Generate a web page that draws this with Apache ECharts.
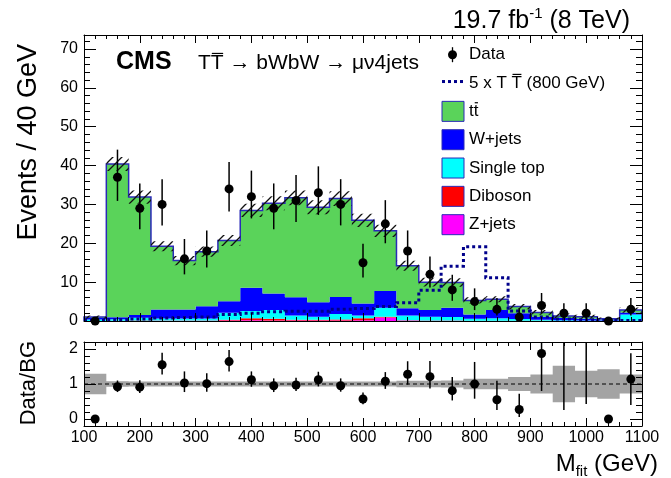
<!DOCTYPE html>
<html>
<head>
<meta charset="utf-8">
<title>CMS TTbar search, mu + 4 jets</title>
<script src="https://cdn.jsdelivr.net/npm/echarts@6.0.0/dist/echarts.min.js"></script>
<style>
html,body{margin:0;padding:0;background:#ffffff;}
#chart{width:671px;height:478px;}
</style>
</head>
<body>
<div id="chart"></div>
<script>
// ---------------- values ----------------
const binLow = [100,140,180,220,260,300,340,380,420,460,500,540,580,620,660,700,740,780,820,860,900,940,980,1020,1060];
const binWidth = 40;

// stacked backgrounds (events / 40 GeV), bottom to top
const zJets     = [0,0.03,0.03,0.05,0.05,0.05,0.1,0.2,0.15,0.1,0.1,0.1,0.2,0.9,0.1,0.05,0.05,0.03,0.03,0.03,0,0,0,0,0.03];
const diboson   = [0,0.05,0.1,0.1,0.1,0.1,0.2,0.5,0.45,0.2,0.2,0.3,0.5,0.2,0.1,0.1,0.1,0.05,0.05,0.05,0.05,0,0,0,0.05];
const singleTop = [0.4,0.4,0.7,0.5,0.5,0.5,1.8,1.85,2.2,1.1,0.8,1.4,0.7,2.3,1.2,0.95,0.85,0.52,0.62,0.42,0.25,0.2,0.15,0.1,1.62];
const wJets     = [0.4,0.5,0.7,2.3,2.3,3.15,3.0,6.0,4.3,4.7,3.7,4.4,3.1,4.3,1.85,1.7,2.4,1.1,2.1,1.5,0.8,0.6,0.45,0.3,0.5];
const ttbar     = [0.2,39.4,30.35,16.3,12.6,14.05,15.6,19.9,23.2,25.6,24.5,25.3,21.4,15.5,10.95,7.2,6.5,3.6,2.8,1.7,1.1,0.5,0.5,0.2,0.6];
// absolute background uncertainty (hatched band)
const bgUnc     = [0.4,1.8,1.7,1.3,1.2,1.3,1.4,1.7,1.8,1.9,1.8,1.9,1.7,1.6,1.3,1.1,1.1,0.8,0.8,0.7,0.6,0.6,0.5,0.3,0.7];
// 5 x T Tbar (800 GeV) signal
const signal    = [0.1,0.3,0.5,0.8,0.9,1.0,1.7,2.0,2.4,2.5,2.5,3.0,3.2,3.7,4.7,7.9,14.1,19.1,11.1,2.6,1.0,0.5,0.3,0.1,0.1];
// data
const dataCounts = [0,37,29,30,16,18,34,32,29,31,33,30,15,25,18,12,8,5,3,1,4,2,2,0,3];
const dataErrHi  = [0,7.1,6.4,6.5,5.1,5.3,6.9,6.7,6.4,6.6,6.8,6.5,4.9,6.1,5.3,4.6,3.9,3.4,2.9,2.3,3.2,2.6,2.6,0,2.9];
const dataErrLo  = [0,6.1,5.4,5.4,4.0,4.2,5.8,5.6,5.4,5.5,5.7,5.4,3.8,5.0,4.2,3.4,2.8,2.2,1.6,0.8,1.9,1.3,1.3,0,1.6];
// ratio panel
const ratio      = [0,0.92,0.91,1.55,1.03,1.01,1.64,1.12,0.95,0.97,1.12,0.95,0.57,1.08,1.28,1.21,0.81,1.0,0.55,0.27,1.87,2.9,2.6,0,1.14];
const ratioErrHi = [0,0.18,0.2,0.34,0.33,0.3,0.33,0.24,0.21,0.21,0.23,0.21,0.19,0.26,0.37,0.45,0.39,0.63,0.54,0.45,1.4,1.2,1.0,0,0.74];
const ratioErrLo = [0,0.15,0.17,0.28,0.26,0.23,0.28,0.2,0.18,0.17,0.19,0.17,0.15,0.22,0.3,0.34,0.28,0.42,0.29,0.21,1.07,2.64,2.17,0,0.74];
const ratioBand  = [0.29,0.08,0.07,0.07,0.07,0.07,0.07,0.07,0.07,0.07,0.07,0.07,0.07,0.07,0.09,0.09,0.1,0.15,0.15,0.2,0.27,0.52,0.38,0.42,0.27];

// axis ticks / labels
const xMajor = [100,200,300,400,500,600,700,800,900,1000,1100];
const yMainMajor = [0,10,20,30,40,50,60,70];
const yRatioMajor = [0,1,2];
const xRange = [100,1100];
const yMainRange = [0,73.6];
const yRatioRange = [-0.2,2.2];

// ---------------- helpers ----------------
const FONT = 'Liberation Sans';
const mctx = document.createElement('canvas').getContext('2d');
function tw(text, size, weight) {
  mctx.font = (weight || 'normal') + ' ' + size + 'px "' + FONT + '"';
  return mctx.measureText(text).width;
}
function minorBetween(major, step) {
  const out = [];
  for (let i = 0; i < major.length; i++) {
    for (let j = 1; j < 5; j++) out.push(+(major[i] + j * step).toFixed(4));
  }
  return out;
}
const yMainMinor = minorBetween(yMainMajor, 2).filter(v => v < yMainRange[1]);
const yRatioMinor = [-0.2].concat(minorBetween(yRatioMajor, 0.2)).filter(v => v < yRatioRange[1]);

const components = [
  { values: zJets, color: '#ff00ff' },
  { values: diboson, color: '#ff0000' },
  { values: singleTop, color: '#00ffff' },
  { values: wJets, color: '#0000ff' },
  { values: ttbar, color: '#5ad35a' }
];
const cumLow = [], cumHigh = [];
let running = binLow.map(() => 0);
components.forEach(c => {
  cumLow.push(running.slice());
  running = running.map((r, k) => r + c.values[k]);
  cumHigh.push(running.slice());
});
const total = running;
const uncLo = total.map((t, k) => Math.max(0, t - bgUnc[k]));
const uncHi = total.map((t, k) => t + bgUnc[k]);
const bandLo = ratioBand.map(u => 1 - u);
const bandHi = ratioBand.map(u => 1 + u);

function stepTop(api, vals) {
  const pts = [];
  for (let k = 0; k < vals.length; k++) {
    pts.push(api.coord([binLow[k], vals[k]]));
    pts.push(api.coord([binLow[k] + binWidth, vals[k]]));
  }
  return pts;
}
function bandPolygon(api, lo, hi) {
  return stepTop(api, hi).concat(stepTop(api, lo).reverse());
}
function hatchCanvas() {
  const s = 9;
  const c = document.createElement('canvas');
  c.width = s; c.height = s;
  const g = c.getContext('2d');
  g.strokeStyle = '#111'; g.lineWidth = 1.3;
  g.beginPath();
  g.moveTo(0, s); g.lineTo(s, 0);
  g.moveTo(-2, 2); g.lineTo(2, -2);
  g.moveTo(s - 2, s + 2); g.lineTo(s + 2, s - 2);
  g.stroke();
  return c;
}
const hatch = { image: hatchCanvas(), repeat: 'repeat' };

// ---------------- axes ----------------
const labelStyle = { fontFamily: FONT, fontSize: 16, color: '#000' };
function xAx(grid, pos, showLabels) {
  return {
    type: 'value', gridIndex: grid, position: pos, min: xRange[0], max: xRange[1], interval: 100, z: 10,
    axisLine: { show: true, onZero: false, lineStyle: { color: '#000', width: 1 } },
    axisTick: { show: true, inside: true, length: 8, lineStyle: { color: '#000', width: 1 } },
    minorTick: { show: true, splitNumber: 5, length: 4, lineStyle: { color: '#000', width: 1 } },
    axisLabel: Object.assign({ show: showLabels, margin: 4, formatter: v => String(v) }, labelStyle),
    splitLine: { show: false }
  };
}
function yAx(grid, pos, range, major, minor, showLabels, isMinor) {
  return {
    type: 'value', gridIndex: grid, position: pos, min: range[0], max: range[1], z: 10,
    axisLine: { show: !isMinor, onZero: false, lineStyle: { color: '#000', width: 1 } },
    axisTick: { show: true, inside: true, length: isMinor ? 6 : 12, customValues: isMinor ? minor : major, lineStyle: { color: '#000', width: 1 } },
    axisLabel: Object.assign({ show: showLabels, margin: 6, customValues: major, formatter: v => String(v) }, labelStyle),
    splitLine: { show: false }
  };
}

// ---------------- series ----------------
const series = [
  { // stacked backgrounds
    type: 'custom', xAxisIndex: 0, yAxisIndex: 0, z: 2, silent: true,
    data: [[binLow[0], 0]],
    renderItem: function (params, api) {
      const children = components.map((c, i) => ({
        type: 'polygon', shape: { points: bandPolygon(api, cumLow[i], cumHigh[i]) },
        style: { fill: c.color, stroke: null }
      }));
      const outline = [api.coord([binLow[0], 0])].concat(stepTop(api, total))
        .concat([api.coord([binLow[binLow.length - 1] + binWidth, 0])]);
      children.push({ type: 'polyline', shape: { points: outline }, style: { stroke: '#2a2ab8', lineWidth: 1.5, fill: null } });
      return { type: 'group', children: children };
    }
  },
  { // hatched uncertainty
    type: 'custom', xAxisIndex: 0, yAxisIndex: 0, z: 3, silent: true,
    data: [[binLow[0], 0]],
    renderItem: function (params, api) {
      return { type: 'polygon', shape: { points: bandPolygon(api, uncLo, uncHi) }, style: { fill: hatch, stroke: null } };
    }
  },
  { // signal
    type: 'custom', xAxisIndex: 0, yAxisIndex: 0, z: 4, silent: true,
    data: [[binLow[0], 0]],
    renderItem: function (params, api) {
      return { type: 'polyline', shape: { points: stepTop(api, signal) },
        style: { stroke: '#00008b', lineWidth: 3, lineDash: [3, 3], fill: null } };
    }
  },
  { // data points
    type: 'custom', xAxisIndex: 0, yAxisIndex: 0, z: 20, silent: true,
    data: dataCounts.map((v, k) => [binLow[k] + binWidth / 2, v]),
    renderItem: function (params, api) {
      const k = params.dataIndex;
      const xc = binLow[k] + binWidth / 2;
      const p = api.coord([xc, dataCounts[k]]);
      const children = [];
      if (dataErrHi[k] > 0 || dataErrLo[k] > 0) {
        const a = api.coord([xc, dataCounts[k] + dataErrHi[k]]);
        const b = api.coord([xc, dataCounts[k] - dataErrLo[k]]);
        children.push({ type: 'line', shape: { x1: a[0], y1: a[1], x2: b[0], y2: b[1] }, style: { stroke: '#000', lineWidth: 1.5 } });
      }
      children.push({ type: 'circle', shape: { cx: p[0], cy: p[1], r: 4.5 }, style: { fill: '#000' } });
      return { type: 'group', children: children };
    }
  },
  { // ratio band
    type: 'custom', xAxisIndex: 2, yAxisIndex: 4, z: 2, silent: true, clip: true,
    data: [[binLow[0], 1]],
    renderItem: function (params, api) {
      return { type: 'polygon', shape: { points: bandPolygon(api, bandLo, bandHi) }, style: { fill: '#a3a3a3', stroke: null } };
    }
  },
  { // ratio reference line
    type: 'custom', xAxisIndex: 2, yAxisIndex: 4, z: 3, silent: true,
    data: [[binLow[0], 1]],
    renderItem: function (params, api) {
      const a = api.coord([xRange[0], 1]), b = api.coord([xRange[1], 1]);
      return { type: 'line', shape: { x1: a[0], y1: a[1], x2: b[0], y2: b[1] }, style: { stroke: '#000', lineWidth: 1, lineDash: [4, 3] } };
    }
  },
  { // ratio points
    type: 'custom', xAxisIndex: 2, yAxisIndex: 4, z: 20, silent: true, clip: true,
    data: ratio.map((v, k) => [binLow[k] + binWidth / 2, v]),
    renderItem: function (params, api) {
      const k = params.dataIndex;
      const xc = binLow[k] + binWidth / 2;
      const p = api.coord([xc, ratio[k]]);
      const children = [];
      if (ratioErrHi[k] > 0 || ratioErrLo[k] > 0) {
        const a = api.coord([xc, ratio[k] + ratioErrHi[k]]);
        const b = api.coord([xc, ratio[k] - ratioErrLo[k]]);
        children.push({ type: 'line', shape: { x1: a[0], y1: a[1], x2: b[0], y2: b[1] }, style: { stroke: '#000', lineWidth: 1.5 } });
      }
      children.push({ type: 'circle', shape: { cx: p[0], cy: p[1], r: 4.5 }, style: { fill: '#000' } });
      return { type: 'group', children: children };
    }
  }
];

// ---------------- texts / legend ----------------
function txt(x, y, text, size, opts) {
  return Object.assign({
    type: 'text', x: x, y: y, z: 50, silent: true,
    style: Object.assign({ text: text, fontFamily: FONT, fontSize: size, fill: '#000', align: 'left', verticalAlign: 'middle' }, (opts && opts.style) || {})
  }, (opts && opts.el) || {});
}
function overline(x, y, size, prefix, letter, weight) {
  const x0 = x + tw(prefix, size, weight);
  const w = tw(letter, size, weight);
  const yy = y - 0.36 * size - 2.5;
  return { type: 'line', z: 50, silent: true, shape: { x1: x0 + 1, y1: yy, x2: x0 + w - 0.5, y2: yy }, style: { stroke: '#000', lineWidth: 1.2 } };
}

const legendX = 442, legendTextX = 469, legendY0 = 54.7, legendDy = 28.33;
const boxItems = [
  { label: 'tt', color: '#5ad35a', bar: ['t', 't'] },
  { label: 'W+jets', color: '#0000ff' },
  { label: 'Single top', color: '#00ffff' },
  { label: 'Diboson', color: '#ff0000' },
  { label: 'Z+jets', color: '#ff00ff' }
];

const graphics = [];
graphics.push({
  type: 'text', x: 630, y: 21, z: 50, silent: true,
  style: {
    text: '{n|19.7 fb}{s|-1}{n| (8 TeV)}', align: 'right', verticalAlign: 'middle', fill: '#000',
    rich: {
      n: { fontFamily: FONT, fontSize: 25, lineHeight: 30, fill: '#000' },
      s: { fontFamily: FONT, fontSize: 15, lineHeight: 15, verticalAlign: 'top', fill: '#000' }
    }
  }
});
graphics.push(txt(116, 62.5, 'CMS', 25, { style: { fontWeight: 'bold' } }));
graphics.push(txt(198, 63.5, 'TT \u2192 bWbW \u2192 \u03bc\u03bd4jets', 21));
graphics.push(overline(198, 63.5, 21, 'T', 'T'));

// legend: data
graphics.push({ type: 'line', z: 50, silent: true, shape: { x1: 452.5, y1: legendY0 - 7.5, x2: 452.5, y2: legendY0 + 7.5 }, style: { stroke: '#000', lineWidth: 1.3 } });
graphics.push({ type: 'circle', z: 51, silent: true, shape: { cx: 452.5, cy: legendY0, r: 4.5 }, style: { fill: '#000' } });
graphics.push(txt(legendTextX, legendY0, 'Data', 17));
// legend: signal
const ySig = legendY0 + legendDy;
graphics.push({ type: 'line', z: 50, silent: true, shape: { x1: legendX, y1: ySig - 1.5, x2: legendX + 23, y2: ySig - 1.5 }, style: { stroke: '#00008b', lineWidth: 3, lineDash: [3, 3] } });
graphics.push(txt(legendTextX, ySig, '5 x T T (800 GeV)', 17));
graphics.push(overline(legendTextX, ySig, 17, '5 x T ', 'T'));
// legend: boxes
boxItems.forEach((it, i) => {
  const yc = legendY0 + legendDy * (i + 2);
  graphics.push({ type: 'rect', z: 50, silent: true, shape: { x: legendX, y: yc - 10, width: 22, height: 20 }, style: { fill: it.color, stroke: '#2a2ab8', lineWidth: 1 } });
  graphics.push(txt(legendTextX, yc, it.label, 17));
  if (it.bar) graphics.push(overline(legendTextX, yc, 17, it.bar[0], it.bar[1]));
});

// axis titles
graphics.push(txt(29, 44, 'Events / 40 GeV', 27, { style: { align: 'right' }, el: { rotation: Math.PI / 2 } }));
graphics.push(txt(29, 341, 'Data/BG', 22, { style: { align: 'right' }, el: { rotation: Math.PI / 2 } }));
graphics.push({
  type: 'text', x: 658, y: 464, z: 50, silent: true,
  style: {
    text: '{m|M}{s|fit}{m| (GeV)}', align: 'right', verticalAlign: 'middle', fill: '#000',
    rich: {
      m: { fontFamily: FONT, fontSize: 24, lineHeight: 30, fill: '#000' },
      s: { fontFamily: FONT, fontSize: 15, lineHeight: 15, verticalAlign: 'bottom', fill: '#000' }
    }
  }
});

const option = {
  animation: false,
  backgroundColor: '#ffffff',
  grid: [
    { left: 84, right: 29, top: 35, height: 286, outerBoundsMode: 'none', containLabel: false },
    { left: 84, right: 29, top: 342, height: 84, outerBoundsMode: 'none', containLabel: false }
  ],
  xAxis: [
    xAx(0, 'bottom', false),
    xAx(0, 'top', false),
    xAx(1, 'bottom', true),
    xAx(1, 'top', false)
  ],
  yAxis: [
    yAx(0, 'left', yMainRange, yMainMajor, yMainMinor, true, false),
    yAx(0, 'left', yMainRange, yMainMajor, yMainMinor, false, true),
    yAx(0, 'right', yMainRange, yMainMajor, yMainMinor, false, false),
    yAx(0, 'right', yMainRange, yMainMajor, yMainMinor, false, true),
    yAx(1, 'left', yRatioRange, yRatioMajor, yRatioMinor, true, false),
    yAx(1, 'left', yRatioRange, yRatioMajor, yRatioMinor, false, true),
    yAx(1, 'right', yRatioRange, yRatioMajor, yRatioMinor, false, false),
    yAx(1, 'right', yRatioRange, yRatioMajor, yRatioMinor, false, true)
  ],
  series: series,
  graphic: graphics
};

const chart = echarts.init(document.getElementById('chart'), null, { renderer: 'canvas' });
chart.setOption(option);
</script>
</body>
</html>
